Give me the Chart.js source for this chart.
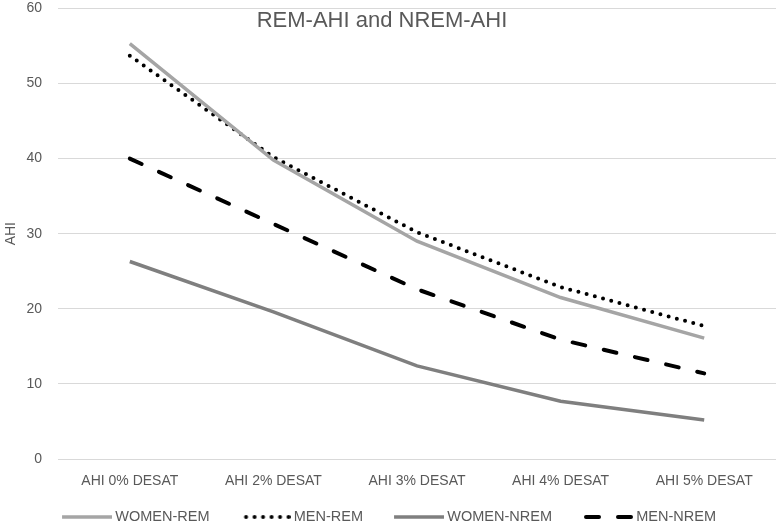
<!DOCTYPE html>
<html>
<head>
<meta charset="utf-8">
<script src="https://cdn.jsdelivr.net/npm/chart.js@4/dist/chart.umd.min.js"></script>
<style>
	html, body { margin: 0; padding: 0; background: #fff; }
	#wrap { width: 776px; height: 526px; }
</style>
</head>
<body>
<div id="wrap"><canvas id="ahiChart"></canvas></div>
<script>
var categories = ['AHI 0% DESAT', 'AHI 2% DESAT', 'AHI 3% DESAT', 'AHI 4% DESAT', 'AHI 5% DESAT'];
var womenRem = [55.3, 39.8, 29.0, 21.5, 16.1];
var menRem = [53.7, 40.2, 30.2, 22.9, 17.7];
var womenNrem = [26.3, 19.6, 12.4, 7.7, 5.2];
var menNrem = [40.0, 31.3, 22.6, 15.9, 11.4];
var yTicks = [0, 10, 20, 30, 40, 50, 60];

(function () {
	'use strict';

	var FONT = '"Liberation Sans", Arial, sans-serif';
	var TEXT = '#595959';

	// title sits inside the plot area, so draw it ourselves
	var innerTitle = {
		id: 'innerTitle',
		afterDraw: function (chart) {
			var ctx = chart.ctx;
			ctx.save();
			ctx.font = '22px ' + FONT;
			ctx.fillStyle = TEXT;
			ctx.textAlign = 'center';
			ctx.textBaseline = 'middle';
			ctx.fillText('REM-AHI and NREM-AHI', 382, 21);
			ctx.restore();
		}
	};

	// legend sample: 50px of line in the right part of a 66px image
	function sample(color, dash, cap, width) {
		var c = document.createElement('canvas');
		c.width = 66;
		c.height = 8;
		var ctx = c.getContext('2d');
		ctx.strokeStyle = color;
		ctx.lineWidth = width;
		ctx.lineCap = cap;
		ctx.setLineDash(dash);
		ctx.beginPath();
		var r = cap === 'round' ? 2 : 0;
		ctx.moveTo(66 - r, 4);
		ctx.lineTo(16 + r, 4);
		ctx.stroke();
		return c;
	}

	function lineSet(label, data, color, dash, cap, width) {
		return {
			label: label,
			data: data,
			borderColor: color,
			backgroundColor: color,
			borderWidth: width,
			borderDash: dash,
			borderCapStyle: cap,
			pointRadius: 0,
			pointHoverRadius: 0,
			pointStyle: sample(color, dash, cap, width),
			tension: 0,
			fill: false
		};
	}

	new Chart(document.getElementById('ahiChart'), {
		type: 'line',
		data: {
			labels: categories,
			datasets: [
				lineSet('WOMEN-REM', womenRem, '#A5A5A5', [], 'butt', 3.5),
				lineSet('MEN-REM', menRem, '#000000', [0, 8.5], 'round', 4),
				lineSet('WOMEN-NREM', womenNrem, '#7F7F7F', [], 'butt', 3.5),
				lineSet('MEN-NREM', menNrem, '#000000', [13, 19], 'round', 4)
			]
		},
		options: {
			responsive: true,
			maintainAspectRatio: false,
			animation: false,
			layout: { padding: { left: -10, right: 0, top: 0, bottom: -8.25 } },
			plugins: {
				title: { display: false },
				tooltip: { enabled: false },
				legend: {
					position: 'bottom',
					labels: {
						usePointStyle: true,
						pointStyleWidth: 58,
						padding: 19,
						color: TEXT,
						font: { family: FONT, size: 14.5 }
					}
				}
			},
			scales: {
				x: {
					offset: true,
					grid: { display: false, drawTicks: false },
					border: { display: false },
					afterFit: function (axis) {
						axis.height = 31.75;
					},
					ticks: {
						color: TEXT,
						padding: 13.6,
						maxRotation: 0,
						font: { family: FONT, size: 14 }
					}
				},
				y: {
					min: 0,
					max: 60,
					afterBuildTicks: function (axis) {
						axis.ticks = yTicks.map(function (v) { return { value: v }; });
					},
					afterFit: function (axis) {
						axis.width = 68;
					},
					grid: {
						color: '#D9D9D9',
						lineWidth: 1,
						drawTicks: true,
						tickLength: 16,
						tickColor: 'rgba(0,0,0,0)'
					},
					border: { display: false },
					title: {
						display: true,
						text: 'AHI',
						color: TEXT,
						padding: { top: 12.6, bottom: 6 },
						font: { family: FONT, size: 14 }
					},
					ticks: {
						color: TEXT,
						padding: 0,
						font: { family: FONT, size: 14 }
					}
				}
			}
		},
		plugins: [innerTitle]
	});
})();
</script>
</body>
</html>
